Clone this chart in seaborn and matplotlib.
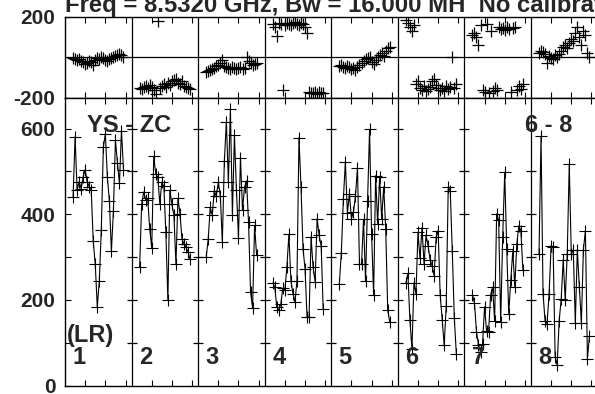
import matplotlib
matplotlib.use("Agg")
import matplotlib.pyplot as plt
import numpy as np
import pandas as pd
import seaborn as sns

# channels plotted in every IF panel (32 channels, panel is 33 wide)
channels = list(range(4, 30))
n_chan = 33
if_labels = ["1", "2", "3", "4", "5", "6", "7", "8"]

amp_if1 = [440, 581, 456, 476, 460, 487, 504, 476, 464, 456, 337, 283, 184,
           244, 363, 556, 588, 487, 431, 314, 408, 573, 520, 472, 595, 503]
amp_if2 = [277, 423, 452, 434, 437, 366, 321, 535, 494, 487, 425, 475, 465,
           358, 199, 456, 423, 398, 283, 437, 401, 342, 331, 323, 312, 295]
amp_if3 = [300, 342, 416, 398, 455, 442, 475, 443, 335, 524, 616, 475, 645,
           399, 584, 456, 345, 532, 411, 463, 478, 381, 219, 181, 374, 304]
amp_if4 = [240, 230, 184, 176, 191, 228, 223, 277, 353, 245, 215, 195, 245,
           579, 464, 320, 273, 160, 160, 347, 276, 243, 389, 351, 326, 178]
amp_if5 = [238, 310, 435, 522, 403, 448, 390, 405, 442, 509, 283, 283, 388,
           244, 430, 598, 354, 211, 490, 378, 487, 390, 464, 366, 176, 149]
amp_if6 = [240, 262, 153, 85, 240, 214, 358, 297, 369, 284, 351, 327, 294,
           280, 257, 347, 362, 212, 154, 94, 187, 464, 454, 315, 159, 75]
amp_if7 = [212, 193, 126, 95, 79, 98, 184, 128, 126, 211, 230, 151, 401,
           386, 149, 347, 498, 319, 168, 246, 315, 231, 331, 373, 362, 271]
amp_if8 = [307, 582, 215, 151, 145, 214, 327, 323, 67, 48, 152, 202, 294,
           200, 308, 517, 308, 317, 146, 317, 230, 146, 317, 362, 63, 116]

ph_if1 = [-5, -8, -15, -10, -20, -25, -35, -30, -20, -25, -40, -15, -5,
          -10, 0, -5, -15, -20, -10, -5, 0, 5, 10, 15, 10, 0]
ph_if2 = [-150, -155, -145, -140, -150, -135, -145, -160, -180, 177, -150, -140, -130,
          -145, -125, -135, -120, -115, -110, -125, -130, -120, -140, -145, -150, -155]
ph_if3 = [-75, -70, -65, -60, -55, -45, -40, -30, -15, -45, -50, -55, -60,
          -50, -55, -60, -55, -50, -60, -55, 0, -20, -30, -40, -35, -30]
ph_if4 = [165, 150, 105, 170, 165, -160, 160, 170, 165, 160, 170, 175, 165,
          160, 170, 165, 150, 120, -170, -178, -175, -172, -180, -170, -176, -178]
ph_if5 = [-45, -40, -50, -55, -45, -50, -60, -55, -65, -50, -40, -30, -20,
          -10, -5, 0, -25, -35, -15, 0, 10, 20, 5, 30, 45, 50]
ph_if6 = [185, 170, 150, 130, 160, -130, -120, -150, -160, -140, -165, -155, -145,
          -120, -110, -135, -150, -160, -150, -165, -140, -155, -145, 0, -150, -130]
ph_if7 = [110, 120, 100, 60, 160, -160, -170, 165, -175, 130, -165, -150, -160,
          150, 140, 145, 135, 150, 140, -170, 145, 150, -160, -140, -155, -130]
ph_if8 = [20, 30, 25, 15, -30, 5, -5, -10, 10, 0, 15, 30, 50,
          60, 45, 70, 90, 80, 120, 150, 100, 60, 130, 110, 20, 0]

amps = [amp_if1, amp_if2, amp_if3, amp_if4, amp_if5, amp_if6, amp_if7, amp_if8]
phases = [ph_if1, ph_if2, ph_if3, ph_if4, ph_if5, ph_if6, ph_if7, ph_if8]

rows = []
for p in range(8):
    for ch, a, ph in zip(channels, amps[p], phases[p]):
        rows.append({"panel": p, "x": p * n_chan + ch, "amp": a, "phase": ph})
df = pd.DataFrame(rows)

sns.set_theme(style="ticks")
plt.rcParams["font.family"] = ["Liberation Sans", "DejaVu Sans"]
plt.rcParams["font.weight"] = "bold"
plt.rcParams["axes.unicode_minus"] = False

fig = plt.figure(figsize=(5.95, 3.94), dpi=100)
left, width = 65 / 595, 532.5 / 595
ax_ph = fig.add_axes([left, 1 - 97.7 / 394, width, 81 / 394])
ax_amp = fig.add_axes([left, 1 - 385.7 / 394, width, 288 / 394])

sns.lineplot(data=df, x="x", y="amp", units="panel", estimator=None,
             color="black", lw=0.8, marker="+", markersize=8,
             markeredgewidth=0.8, markeredgecolor="black", ax=ax_amp)
sns.scatterplot(data=df, x="x", y="phase", marker="+", s=80, color="black",
                linewidth=0.9, ax=ax_ph)

xticks = [p * n_chan + t for p in range(8) for t in (10, 20, 30)]
for ax in (ax_ph, ax_amp):
    ax.set_xlim(0, 8 * n_chan)
    ax.set_xlabel("")
    ax.set_ylabel("")
    for k in range(1, 8):
        ax.axvline(k * n_chan, color="black", lw=0.9)
    ax.set_xticks(xticks)
    ax.tick_params(axis="x", direction="in", top=True, bottom=True,
                   length=4, width=0.8, color="black", labelbottom=False)
    ax.tick_params(axis="y", which="both", direction="in", length=4,
                   width=0.8, color="black", pad=7, labelsize=15)
    for s in ax.spines.values():
        s.set_color("black")
        s.set_linewidth(1.0)

ax_ph.set_ylim(-200, 200)
ax_ph.set_yticks([-200, 200])
ax_ph.axhline(0, color="black", lw=0.9)

ax_amp.set_ylim(0, 672)
ax_amp.set_yticks([0, 200, 400, 600])
ax_amp.set_yticks([100, 300, 500], minor=True)
for k in range(1, 8):
    ax_amp.plot([k * n_chan] * 6, [100, 200, 300, 400, 500, 600], ls="none",
                marker="_", ms=7, mew=0.9, color="black")

for lab in ax_ph.get_yticklabels() + ax_amp.get_yticklabels():
    lab.set_fontweight("bold")

ax_amp.text(10.9, 592, "YS - ZC", fontsize=17, fontweight="bold")
ax_amp.text(251.4, 592, "6 - 8", fontsize=17, fontweight="bold", ha="right")
ax_amp.text(1.0, 103, "(LR)", fontsize=17, fontweight="bold")
for p, lab in enumerate(if_labels):
    ax_amp.text(p * n_chan + 3.7, 50, lab, fontsize=17, fontweight="bold")

fig.text(left, 1 - 12 / 394, "Freq = 8.5320 GHz, Bw = 16.000 MH  No calibration",
         fontsize=17.2, fontweight="bold", va="baseline")

fig.savefig("out.png", dpi=100)
plt.close(fig)
